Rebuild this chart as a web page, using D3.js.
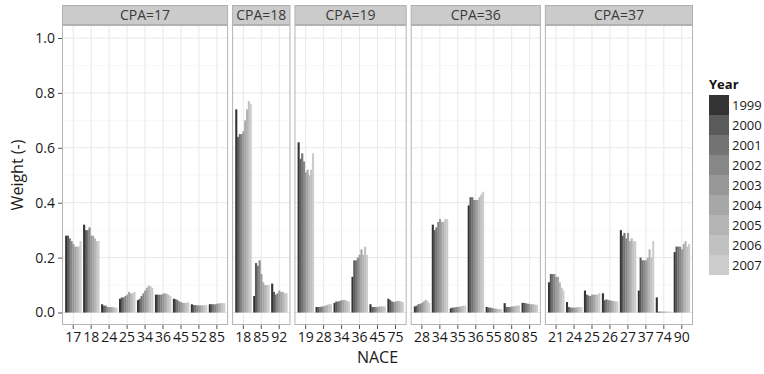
<!DOCTYPE html>
<html>
<head>
<meta charset="utf-8">
<script src="https://cdn.jsdelivr.net/npm/d3@7"></script>
<style>
  body { margin: 0; background: #fff; }
  text { font-family: 'Open Sans', sans-serif; }
</style>
</head>
<body>
<script>
const years = [1999, 2000, 2001, 2002, 2003, 2004, 2005, 2006, 2007];
const cpaCodes = ['17', '18', '19', '36', '37'];

// NACE categories per CPA panel
const nace17 = ['17', '18', '24', '25', '34', '36', '45', '52', '85'];
const nace18 = ['18', '85', '92'];
const nace19 = ['19', '28', '34', '36', '45', '75'];
const nace36 = ['28', '34', '35', '36', '55', '80', '85'];
const nace37 = ['21', '24', '25', '26', '27', '37', '74', '90'];

// weights, one row per NACE, one value per year 1999..2007
const weights17 = [
	[0.28, 0.28, 0.27, 0.26, 0.25, 0.24, 0.24, 0.24, 0.26],
	[0.32, 0.30, 0.30, 0.31, 0.28, 0.28, 0.27, 0.26, 0.26],
	[0.03, 0.025, 0.025, 0.02, 0.02, 0.02, 0.02, 0.018, 0.018],
	[0.05, 0.055, 0.055, 0.06, 0.065, 0.075, 0.07, 0.07, 0.075],
	[0.045, 0.05, 0.06, 0.07, 0.08, 0.09, 0.098, 0.095, 0.09],
	[0.065, 0.065, 0.065, 0.065, 0.068, 0.07, 0.068, 0.065, 0.06],
	[0.05, 0.048, 0.045, 0.04, 0.038, 0.035, 0.035, 0.035, 0.037],
	[0.03, 0.027, 0.027, 0.026, 0.026, 0.026, 0.026, 0.027, 0.027],
	[0.03, 0.03, 0.03, 0.03, 0.032, 0.033, 0.034, 0.034, 0.034]
];
const weights18 = [
	[0.74, 0.64, 0.65, 0.65, 0.66, 0.70, 0.74, 0.77, 0.76],
	[0.06, 0.18, 0.17, 0.19, 0.14, 0.11, 0.10, 0.10, 0.10],
	[0.105, 0.075, 0.065, 0.07, 0.08, 0.075, 0.075, 0.07, 0.07]
];
const weights19 = [
	[0.62, 0.56, 0.58, 0.55, 0.51, 0.52, 0.50, 0.52, 0.58],
	[0.02, 0.02, 0.02, 0.022, 0.022, 0.025, 0.028, 0.03, 0.03],
	[0.035, 0.04, 0.04, 0.042, 0.045, 0.045, 0.045, 0.042, 0.04],
	[0.13, 0.19, 0.19, 0.20, 0.21, 0.23, 0.21, 0.24, 0.21],
	[0.03, 0.02, 0.02, 0.02, 0.02, 0.022, 0.022, 0.022, 0.022],
	[0.05, 0.045, 0.04, 0.038, 0.04, 0.042, 0.042, 0.04, 0.038]
];
const weights36 = [
	[0.022, 0.025, 0.03, 0.032, 0.035, 0.04, 0.046, 0.042, 0.035],
	[0.32, 0.30, 0.31, 0.33, 0.34, 0.33, 0.33, 0.34, 0.34],
	[0.015, 0.018, 0.018, 0.02, 0.02, 0.022, 0.022, 0.025, 0.025],
	[0.39, 0.42, 0.42, 0.41, 0.41, 0.41, 0.42, 0.43, 0.44],
	[0.02, 0.018, 0.018, 0.016, 0.015, 0.014, 0.013, 0.012, 0.012],
	[0.034, 0.02, 0.02, 0.02, 0.022, 0.022, 0.024, 0.025, 0.026],
	[0.035, 0.035, 0.033, 0.032, 0.03, 0.03, 0.03, 0.028, 0.028]
];
const weights37 = [
	[0.11, 0.14, 0.14, 0.14, 0.13, 0.13, 0.11, 0.09, 0.08],
	[0.038, 0.02, 0.018, 0.018, 0.018, 0.018, 0.02, 0.02, 0.02],
	[0.08, 0.065, 0.062, 0.06, 0.065, 0.065, 0.065, 0.065, 0.07],
	[0.07, 0.045, 0.048, 0.045, 0.045, 0.042, 0.042, 0.04, 0.04],
	[0.30, 0.28, 0.29, 0.27, 0.29, 0.26, 0.27, 0.26, 0.26],
	[0.08, 0.20, 0.19, 0.19, 0.19, 0.20, 0.23, 0.20, 0.26],
	[0.055, 0.003, 0.003, 0.003, 0.003, 0.003, 0.003, 0.003, 0.003],
	[0.22, 0.24, 0.24, 0.24, 0.23, 0.25, 0.26, 0.24, 0.25]
];

const yTicks = [0, 0.2, 0.4, 0.6, 0.8, 1.0];

const panels = [
	{ cpa: cpaCodes[0], nace: nace17, weights: weights17 },
	{ cpa: cpaCodes[1], nace: nace18, weights: weights18 },
	{ cpa: cpaCodes[2], nace: nace19, weights: weights19 },
	{ cpa: cpaCodes[3], nace: nace36, weights: weights36 },
	{ cpa: cpaCodes[4], nace: nace37, weights: weights37 }
];

const width = 764, height = 374;
const plotLeft = 62, plotRight = 693, gap = 4;
const panelTop = 25, panelBottom = 325, stripTop = 5;

const svg = d3.select('body').append('svg')
	.attr('width', width)
	.attr('height', height);

const y = d3.scaleLinear().domain([0, 1]).range([312.5, 38]);

// ggplot grey palette (start 0.2, end 0.8, gamma 2.2)
const lo = Math.pow(0.2, 2.2), hi = Math.pow(0.8, 2.2);
const color = d3.scaleOrdinal()
	.domain(years)
	.range(years.map((_, i) => {
		const v = Math.round(255 * Math.pow(lo + (hi - lo) * i / (years.length - 1), 1 / 2.2));
		return d3.rgb(v, v, v).toString();
	}));

// free-space facets: panel widths follow number of categories
const outer = 0.175, inner = 0.1;
const units = panels.map(p => p.nace.length - inner + 2 * outer);
const unitPx = (plotRight - plotLeft - gap * (panels.length - 1)) / d3.sum(units);

let cursor = plotLeft;
panels.forEach((p, i) => {
	const w = units[i] * unitPx;
	const x0 = cursor;
	cursor += w + gap;

	const x = d3.scaleBand()
		.domain(p.nace)
		.range([x0, x0 + w])
		.paddingInner(inner)
		.paddingOuter(outer);
	const xYear = d3.scaleBand()
		.domain(years)
		.range([0, x.bandwidth()]);

	const g = svg.append('g');

	g.append('rect')
		.attr('x', x0).attr('y', panelTop)
		.attr('width', w).attr('height', panelBottom - panelTop)
		.attr('fill', '#fff');

	// minor grid
	g.selectAll('.minor')
		.data([0.1, 0.3, 0.5, 0.7, 0.9])
		.enter().append('line')
		.attr('x1', x0).attr('x2', x0 + w)
		.attr('y1', d => y(d)).attr('y2', d => y(d))
		.attr('stroke', '#f4f4f4').attr('stroke-width', 0.6);

	g.selectAll('.major')
		.data(yTicks)
		.enter().append('line')
		.attr('x1', x0).attr('x2', x0 + w)
		.attr('y1', d => y(d)).attr('y2', d => y(d))
		.attr('stroke', '#e8e8e8').attr('stroke-width', 1);

	g.selectAll('.vgrid')
		.data(p.nace)
		.enter().append('line')
		.attr('x1', d => x(d) + x.bandwidth() / 2)
		.attr('x2', d => x(d) + x.bandwidth() / 2)
		.attr('y1', panelTop).attr('y2', panelBottom)
		.attr('stroke', '#e8e8e8').attr('stroke-width', 1);

	// bars
	const groups = g.selectAll('.grp')
		.data(p.nace.map((n, k) => ({ nace: n, values: p.weights[k] })))
		.enter().append('g')
		.attr('transform', d => `translate(${x(d.nace)},0)`);

	groups.selectAll('rect')
		.data(d => d.values.map((v, j) => ({ year: years[j], value: v })))
		.enter().append('rect')
		.attr('x', d => xYear(d.year))
		.attr('width', xYear.bandwidth() + 0.3)
		.attr('y', d => y(d.value))
		.attr('height', d => y(0) - y(d.value))
		.attr('fill', d => color(d.year));

	// panel border
	g.append('rect')
		.attr('x', x0 + 0.5).attr('y', panelTop + 0.5)
		.attr('width', w - 1).attr('height', panelBottom - panelTop - 1)
		.attr('fill', 'none')
		.attr('stroke', '#b4b4b4');

	// strip
	g.append('rect')
		.attr('x', x0 + 0.5).attr('y', stripTop + 0.5)
		.attr('width', w - 1).attr('height', panelTop - stripTop - 1)
		.attr('fill', '#cbcbcb')
		.attr('stroke', '#b0b0b0');
	g.append('text')
		.attr('x', x0 + w / 2).attr('y', (stripTop + panelTop) / 2)
		.attr('dy', '0.36em')
		.attr('text-anchor', 'middle')
		.attr('font-size', 14)
		.attr('fill', '#3a3a3a')
		.text(`CPA=${p.cpa}`);

	// x axis
	const xAxis = g.append('g')
		.attr('transform', `translate(0,${panelBottom})`)
		.call(d3.axisBottom(x).tickSize(4).tickPadding(3));
	xAxis.select('.domain').remove();
	xAxis.selectAll('line').attr('stroke', '#555');
	xAxis.selectAll('text')
		.attr('font-size', 14)
		.attr('font-family', "'Open Sans', sans-serif")
		.attr('fill', '#1a1a1a');
});

// y axis
const yAxis = svg.append('g')
	.attr('transform', `translate(${plotLeft},0)`)
	.call(d3.axisLeft(y).tickValues(yTicks).tickFormat(d3.format('.1f')).tickSize(4).tickPadding(3));
yAxis.select('.domain').remove();
yAxis.selectAll('line').attr('stroke', '#555');
yAxis.selectAll('text')
	.attr('font-size', 14)
	.attr('font-family', "'Open Sans', sans-serif")
	.attr('fill', '#1a1a1a');

// axis titles
svg.append('text')
	.attr('x', (plotLeft + plotRight) / 2).attr('y', 363)
	.attr('text-anchor', 'middle')
	.attr('font-size', 16)
	.attr('fill', '#1a1a1a')
	.text('NACE');

svg.append('text')
	.attr('transform', 'translate(23,175) rotate(-90)')
	.attr('text-anchor', 'middle')
	.attr('font-size', 16)
	.attr('fill', '#1a1a1a')
	.text('Weight (-)');

// legend
const legend = svg.append('g').attr('transform', 'translate(709,95)');
legend.append('text')
	.attr('x', 0).attr('y', -6)
	.attr('font-size', 13)
	.attr('font-weight', 'bold')
	.attr('fill', '#111')
	.text('Year');

const keys = legend.selectAll('.key')
	.data(years)
	.enter().append('g')
	.attr('transform', (d, i) => `translate(0,${i * 20})`);
keys.append('rect')
	.attr('width', 20).attr('height', 20)
	.attr('fill', d => color(d));
keys.append('text')
	.attr('x', 23).attr('y', 10)
	.attr('dy', '0.36em')
	.attr('font-size', 13)
	.attr('fill', '#1a1a1a')
	.text(d => d);
</script>
</body>
</html>
